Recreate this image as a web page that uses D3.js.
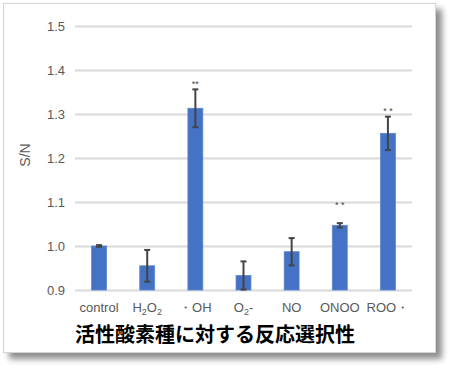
<!DOCTYPE html>
<html><head><meta charset="utf-8">
<script src="https://cdn.jsdelivr.net/npm/d3@7"></script>
<style>body{margin:0;background:#fff;}svg{display:block;}</style>
</head><body>
<svg id="c" width="450" height="369"></svg>
<script>
const categories = ["control","H2O2","・OH","O2-","NO","ONOO","ROO・"];
const values = [1.0, 0.955, 1.313, 0.933, 0.987, 1.047, 1.256];
const errors = [0.002, 0.036, 0.043, 0.032, 0.031, 0.005, 0.038];
const marks = ["", "", "**", "", "", "* *", "* *"];
const markLevels = [null, null, 1.37, null, null, 1.095, 1.31];
const yTicks = [0.9, 1.0, 1.1, 1.2, 1.3, 1.4, 1.5];
const yTitle = "S/N";
const chartTitle = "活性酸素種に対する反応選択性";

const svg = d3.select("#c");
const defs = svg.append("defs");
const f = defs.append("filter").attr("id","sh").attr("x","-5%").attr("y","-5%").attr("width","115%").attr("height","115%");
f.append("feDropShadow").attr("dx",6).attr("dy",6).attr("stdDeviation",3).attr("flood-color","#000").attr("flood-opacity",0.45);

svg.append("rect").attr("x",3.5).attr("y",3.5).attr("width",432).attr("height",349)
  .attr("fill","#fff").attr("stroke","#d4d4d4").attr("stroke-width",1).attr("filter","url(#sh)");

const left = 75, right = 412;
const y = d3.scaleLinear().domain([0.9,1.5]).range([290,26]);
const x = d3.scaleBand().domain(categories).range([left,right]).paddingInner(0.69).paddingOuter(0.345);

const g = svg.append("g");
const axisY = d3.axisLeft(y).tickValues(yTicks).tickFormat(d3.format(".1f")).tickSize(-(right-left)).tickPadding(10);
const ay = g.append("g").attr("transform",`translate(${left},0)`).call(axisY);
ay.select(".domain").remove();
ay.selectAll(".tick line").attr("stroke","#d9d9d9").attr("stroke-width",2);
ay.selectAll(".tick text").attr("fill","#595959").attr("font-size",13).attr("font-family","Liberation Sans, Arial, sans-serif");

g.selectAll("rect.bar").data(categories).enter().append("rect").attr("class","bar")
  .attr("x",d=>x(d)).attr("width",x.bandwidth())
  .attr("y",(d,i)=>y(values[i])).attr("height",(d,i)=>y(0.9)-y(values[i]))
  .attr("fill","#4472c4").attr("stroke","#5b86cf").attr("stroke-width",0.8);

const eg = g.append("g");
categories.forEach((c,i)=>{
  const cx = x(c)+x.bandwidth()/2;
  const t = y(values[i]+errors[i]), b = y(values[i]-errors[i]);
  eg.append("line").attr("x1",cx).attr("x2",cx).attr("y1",t).attr("y2",b).attr("stroke","#444").attr("stroke-width",2);
  [t,b].forEach(yy=>eg.append("line").attr("x1",cx-3).attr("x2",cx+3).attr("y1",yy).attr("y2",yy).attr("stroke","#444").attr("stroke-width",2));
  if(marks[i]) eg.append("text").attr("x",cx).attr("y",y(markLevels[i])+4).attr("text-anchor","middle")
    .attr("font-size",9).attr("fill","#444").attr("font-family","Liberation Sans, Arial, sans-serif").text(marks[i]);
});

// x labels
const xl = g.append("g").attr("font-family","Liberation Sans, Arial, sans-serif").attr("font-size",13).attr("fill","#595959");
categories.forEach(c=>{
  const cx = x(c)+x.bandwidth()/2;
  const t = xl.append("text").attr("x",cx).attr("y",312).attr("text-anchor","middle");
  if(c==="H2O2"){
    t.append("tspan").text("H");
    t.append("tspan").attr("font-size",9).attr("dy",3).text("2");
    t.append("tspan").attr("dy",-3).text("O");
    t.append("tspan").attr("font-size",9).attr("dy",3).text("2");
  } else if(c==="O2-"){
    t.append("tspan").text("O");
    t.append("tspan").attr("font-size",9).attr("dy",3).text("2");
    t.append("tspan").attr("dy",-3).text("-");
  } else t.text(c);
});

svg.append("text").attr("transform","translate(30,155) rotate(-90)").attr("text-anchor","middle")
  .attr("font-family","Liberation Sans, Arial, sans-serif").attr("font-size",14).attr("fill","#595959").text(yTitle);

svg.append("text").attr("x",215).attr("y",342).attr("text-anchor","middle")
  .attr("font-family","Noto Sans CJK JP").attr("font-weight","bold").attr("font-size",20).attr("fill","#000").text(chartTitle);
</script>
</body></html>
